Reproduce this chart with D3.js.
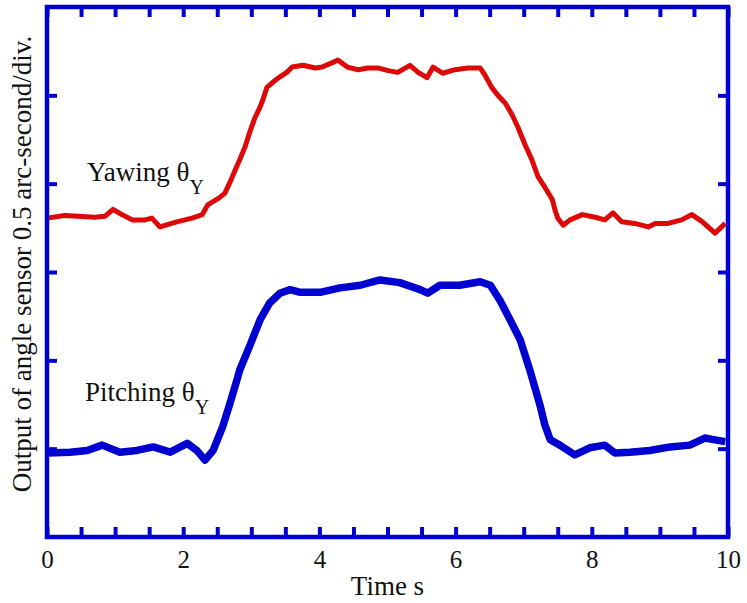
<!doctype html>
<html>
<head>
<meta charset="utf-8">
<script src="https://cdn.jsdelivr.net/npm/d3@7/dist/d3.min.js"></script>
<style>
  body { margin:0; background:#fff; }
  text { font-family: "Liberation Serif", "Times New Roman", serif; fill:#111; }
</style>
</head>
<body>
<svg id="chart"></svg>
<script>
// time in seconds, output in divisions (0.5 arc-second/div.)
var yawT = [0,0.26,0.46,0.70,0.85,0.97,1.10,1.25,1.44,1.54,1.66,1.78,1.92,2.13,2.28,2.36,2.51,2.61,2.69,2.76,2.83,2.91,2.98,3.05,3.13,3.17,3.23,3.32,3.42,3.52,3.60,3.76,3.94,4.04,4.19,4.27,4.41,4.57,4.71,4.86,5.01,5.15,5.33,5.45,5.58,5.67,5.81,5.99,6.18,6.36,6.43,6.53,6.62,6.73,6.83,6.92,7.02,7.12,7.21,7.31,7.42,7.46,7.50,7.58,7.68,7.86,8.05,8.19,8.31,8.44,8.63,8.83,8.93,9.12,9.32,9.47,9.62,9.81,9.96];
var yawV = [3.61,3.64,3.63,3.62,3.63,3.71,3.65,3.59,3.59,3.61,3.51,3.54,3.57,3.61,3.65,3.76,3.83,3.89,4.02,4.15,4.27,4.42,4.59,4.74,4.87,4.95,5.09,5.15,5.21,5.26,5.32,5.34,5.31,5.32,5.37,5.40,5.32,5.29,5.31,5.31,5.28,5.26,5.34,5.26,5.20,5.32,5.25,5.29,5.31,5.31,5.23,5.09,5.00,4.91,4.78,4.63,4.44,4.27,4.08,3.96,3.82,3.70,3.61,3.53,3.59,3.65,3.62,3.59,3.67,3.57,3.55,3.51,3.55,3.55,3.59,3.65,3.57,3.44,3.55];

var pitchT = [0,0.34,0.59,0.81,1.07,1.32,1.56,1.81,2.06,2.20,2.32,2.44,2.58,2.69,2.79,2.83,2.98,3.13,3.27,3.42,3.57,3.72,4.01,4.30,4.60,4.89,5.18,5.48,5.59,5.77,6.06,6.36,6.51,6.65,6.80,6.95,7.09,7.24,7.31,7.39,7.53,7.75,7.97,8.19,8.34,8.56,8.85,9.15,9.44,9.66,9.81,9.96];
var pitchV = [0.95,0.96,0.98,1.04,0.96,0.98,1.02,0.96,1.06,0.98,0.87,0.98,1.25,1.52,1.78,1.89,2.17,2.46,2.65,2.76,2.80,2.77,2.77,2.82,2.85,2.91,2.88,2.80,2.76,2.85,2.85,2.89,2.85,2.68,2.46,2.23,1.89,1.49,1.27,1.10,1.04,0.93,1.01,1.04,0.95,0.96,0.98,1.02,1.04,1.12,1.10,1.08];

var xTicks = [0,0.5,1,1.5,2,2.5,3,3.5,4,4.5,5,5.5,6,6.5,7,7.5,8,8.5,9,9.5,10];
var xLabels = [0,2,4,6,8,10];
var yTicks = [1,2,3,4,5];

var width = 747, height = 603;
var margin = {top:7, right:19, bottom:66, left:47};
var w = width - margin.left - margin.right;
var h = height - margin.top - margin.bottom;
var axisColor = "#0000d2";

var x = d3.scaleLinear().domain([0,10]).range([0,w]);
var y = d3.scaleLinear().domain([0,6]).range([h,0]);

var svg = d3.select("#chart").attr("width",width).attr("height",height);
var chart = svg.append("g").attr("transform","translate("+margin.left+","+margin.top+")");

function styleAxis(g){
    g.attr("font-family","Liberation Serif").attr("font-size",25);
    g.select(".domain").remove();
    g.selectAll(".tick line").attr("stroke",axisColor).attr("stroke-width",4);
    g.selectAll(".tick text").attr("fill","#111");
}

chart.append("g").attr("transform","translate(0,"+h+")")
     .call(d3.axisBottom(x).tickValues(xTicks).tickSizeInner(-10).tickSizeOuter(0).tickPadding(13)
           .tickFormat(d => xLabels.indexOf(d) >= 0 ? d : ""))
     .call(styleAxis);
chart.append("g")
     .call(d3.axisTop(x).tickValues(xTicks).tickSizeInner(-10).tickSizeOuter(0).tickFormat(""))
     .call(styleAxis);
chart.append("g")
     .call(d3.axisLeft(y).tickValues(yTicks).tickSizeInner(-10).tickSizeOuter(0).tickFormat(""))
     .call(styleAxis);
chart.append("g").attr("transform","translate("+w+",0)")
     .call(d3.axisRight(y).tickValues(yTicks).tickSizeInner(-10).tickSizeOuter(0).tickFormat(""))
     .call(styleAxis);

var line = d3.line().x(d => x(d[0])).y(d => y(d[1]));

chart.append("path").datum(d3.zip(yawT,yawV))
     .attr("d",line).attr("fill","none")
     .attr("stroke","#dd0808").attr("stroke-width",5).attr("stroke-linejoin","round");
chart.append("path").datum(d3.zip(pitchT,pitchV))
     .attr("d",line).attr("fill","none")
     .attr("stroke","#0000d0").attr("stroke-width",7.5).attr("stroke-linejoin","round");

chart.append("rect").attr("x",0).attr("y",0).attr("width",w).attr("height",h)
     .attr("fill","none").attr("stroke",axisColor).attr("stroke-width",4.5);

// series labels
var yawLabel = chart.append("text").attr("x",40).attr("y",174).style("font-size","27px");
yawLabel.append("tspan").text("Yawing \u03b8");
yawLabel.append("tspan").attr("dy",13).style("font-size","20px").text("Y");

var pitchLabel = chart.append("text").attr("x",38).attr("y",394).style("font-size","27px");
pitchLabel.append("tspan").text("Pitching \u03b8");
pitchLabel.append("tspan").attr("dy",13).style("font-size","20px").text("Y");

svg.append("text").attr("x",margin.left + w/2).attr("y",595)
   .attr("text-anchor","middle").style("font-size","27px").text("Time s");

svg.append("text").attr("transform","translate(31,264) rotate(-90)")
   .attr("text-anchor","middle").style("font-size","27px")
   .text("Output of angle sensor 0.5 arc-second/div.");
</script>
</body>
</html>
